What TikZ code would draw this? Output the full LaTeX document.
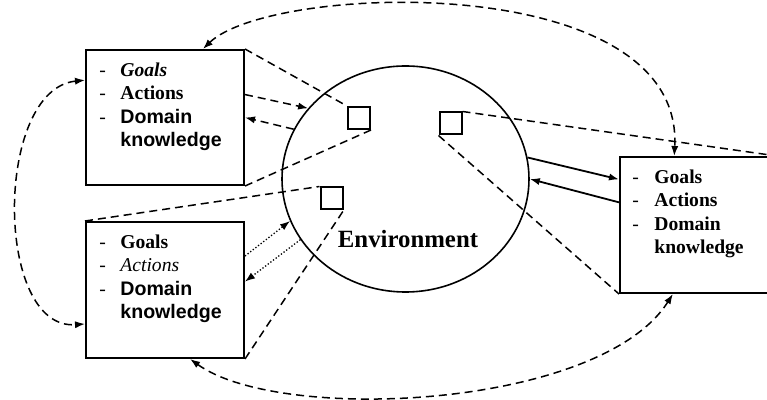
\documentclass[tikz,border=0pt]{standalone}
\usepackage{fontspec}
\setmainfont{Liberation Serif}
\newfontfamily\arialfont{Liberation Sans}
\usetikzlibrary{arrows.meta,shapes.geometric}
\tikzset{
  agent/.style={draw,line width=1pt,minimum width=79pt,minimum height=68pt,inner sep=0pt},
  itemlist/.style={anchor=north west,inner sep=0pt,font=\fontsize{9.8}{11.6}\selectfont},
  slot/.style={draw,line width=1pt,minimum size=11pt,inner sep=0pt},
  link/.style={line width=0.75pt,dash pattern=on 4pt off 2.5pt},
  weak/.style={line width=0.65pt,dash pattern=on 0.65pt off 1pt},
}
\begin{document}
\begin{tikzpicture}[x=0.5pt,y=-0.5pt,>={Latex[length=5pt,width=3.6pt]}]
\useasboundingbox (0,0) rectangle (767,400);
% the three agents
\node[agent,minimum height=67.5pt] (A) at (165,117.5) {};
\node[agent] (B) at (165,290) {};
\node[agent,minimum width=78pt] (C) at (698,225) {};
\node[itemlist] (listA) at (99,60) {\begin{tabular}{@{}p{10.5pt}@{}l@{}}
  -&\textbf{\textit{Goals}}\\
  -&\textbf{Actions}\\
  -&{\arialfont\bfseries Domain}\\
   &{\arialfont\bfseries knowledge}
\end{tabular}};
\node[itemlist] (listB) at (99,232) {\begin{tabular}{@{}p{10.5pt}@{}l@{}}
  -&\textbf{Goals}\\
  -&\textit{Actions}\\
  -&{\arialfont\bfseries Domain}\\
   &{\arialfont\bfseries knowledge}
\end{tabular}};
\node[itemlist] (listC) at (632,167) {\begin{tabular}{@{}p{11pt}@{}l@{}}
  -&\textbf{Goals}\\
  -&\textbf{Actions}\\
  -&\textbf{Domain}\\
   &\textbf{knowledge}
\end{tabular}};
% environment
\node[draw,ellipse,line width=0.8pt,minimum width=123.5pt,minimum height=113pt,inner sep=0pt] (env) at (405.5,179) {};
\node[font=\fontsize{12.4}{14}\selectfont\bfseries] (envlabel) at (408,239) {Environment};
\node[slot] (s1) at (359,118) {};
\node[slot] (s2) at (450.5,123.5) {};
\node[slot] (s3) at (331.5,198.5) {};
% views on the environment
\draw[link] (A.north east) -- (s1.north west);
\draw[link] (A.south east) -- (s1.south east);
\draw[link] (B.north west) -- (s3.north west);
\draw[link] (B.south east) -- (s3.south east);
\draw[link] (s2.north east) -- (C.north east);
\draw[link] (s2.south west) -- (C.south west);
% interaction
\draw[link,->] (A.16.6) -- (env.144);
\draw[link,->] (env.156) -- (A.east);
\draw[weak,->] (B.23) -- (env.200);
\draw[weak,->] (env.210) -- (B.6);
\draw[line width=0.9pt,->] (env.10) -- (C.150);
\draw[line width=0.9pt,->] (C.164) -- (env.0);
% communication
\draw[link,<->] (A.61) .. controls +(68,-66) and +(10,-187) .. (C.109);
\draw[link,<->] (A.155) .. controls +(-91,9) and +(-91,7) .. (B.203);
\draw[link,<->] (B.290) .. controls +(90,65) and +(-73,115) .. (C.250);
\end{tikzpicture}
\end{document}
